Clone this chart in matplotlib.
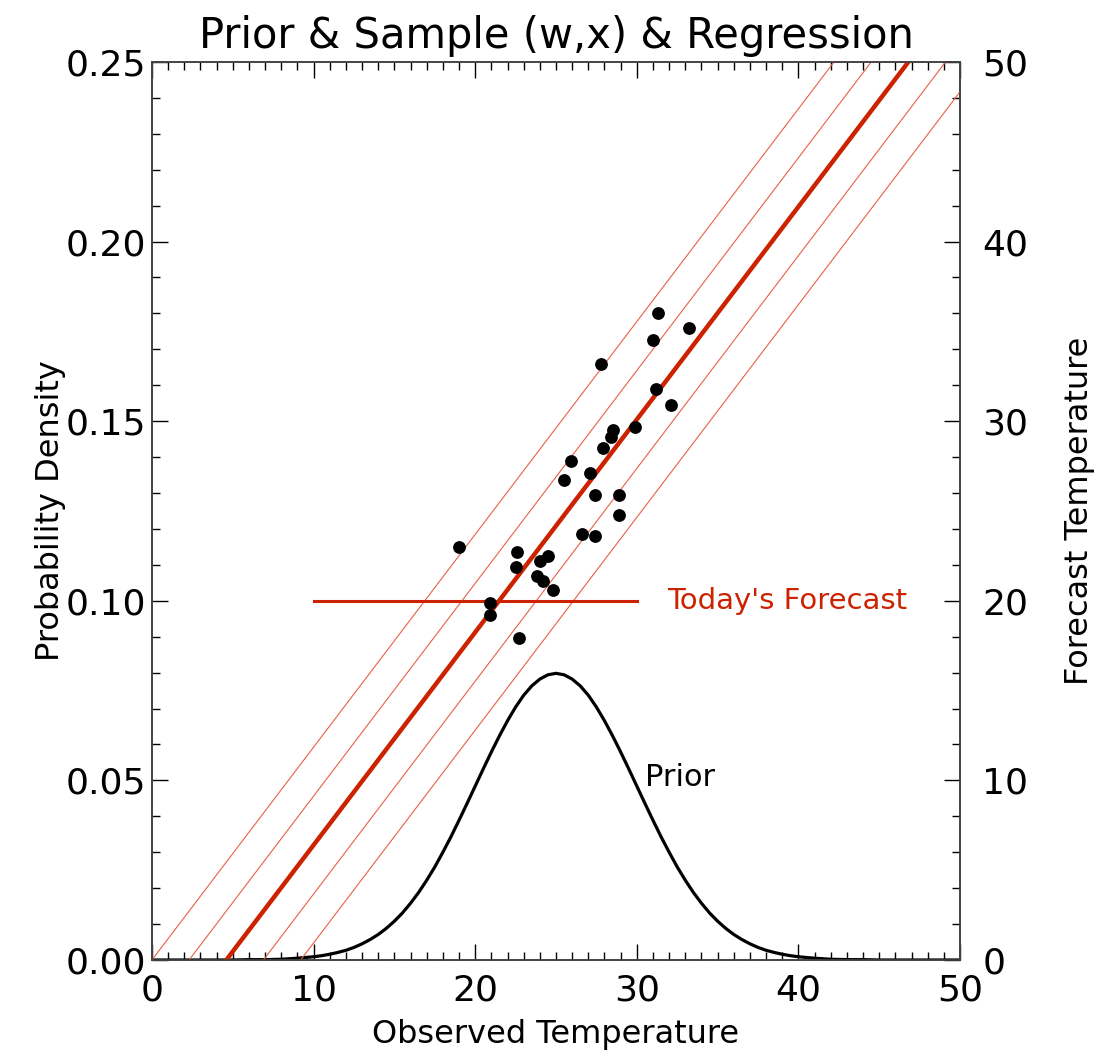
import matplotlib
matplotlib.use("Agg")
import matplotlib.pyplot as plt
from matplotlib.ticker import MultipleLocator

# prior density (observed temperature, density)
prior_x = [0, 1, 2, 3, 4, 5, 6, 7, 8, 9,
           10, 10.5, 11, 11.5, 12, 12.5, 13, 13.5, 14, 14.5,
           15, 15.5, 16, 16.5, 17, 17.5, 18, 18.5, 19, 19.5,
           20, 20.5, 21, 21.5, 22, 22.5, 23, 23.5, 24, 24.5,
           25, 25.5, 26, 26.5, 27, 27.5, 28, 28.5, 29, 29.5,
           30, 30.5, 31, 31.5, 32, 32.5, 33, 33.5, 34, 34.5,
           35, 35.5, 36, 36.5, 37, 37.5, 38, 38.5, 39, 39.5,
           40, 41, 42, 43, 44, 45, 46, 47, 48, 49, 50]
prior_y = [0, 0, 0, 0, 0, 0, 0.0001, 0.0001, 0.0002, 0.0005,
           0.0009, 0.0012, 0.0016, 0.0021, 0.0027, 0.0035, 0.0045, 0.0057, 0.0071, 0.0088,
           0.0108, 0.0131, 0.0158, 0.0188, 0.0222, 0.0259, 0.0300, 0.0343, 0.0389, 0.0436,
           0.0484, 0.0532, 0.0579, 0.0624, 0.0666, 0.0704, 0.0737, 0.0763, 0.0782, 0.0794,
           0.0798, 0.0794, 0.0782, 0.0763, 0.0737, 0.0704, 0.0666, 0.0624, 0.0579, 0.0532,
           0.0484, 0.0436, 0.0389, 0.0343, 0.0300, 0.0259, 0.0222, 0.0188, 0.0158, 0.0131,
           0.0108, 0.0088, 0.0071, 0.0057, 0.0045, 0.0035, 0.0027, 0.0021, 0.0016, 0.0012,
           0.0009, 0.0005, 0.0002, 0.0001, 0.0001, 0, 0, 0, 0, 0, 0]

# sample pairs (observed w, forecast x)
obs = [31.3, 33.2, 31.0, 27.8, 31.2, 32.1, 28.5, 29.9, 28.4, 27.9,
       25.9, 27.1, 25.5, 27.4, 28.9, 28.9, 26.6, 27.4, 19.0, 22.6,
       24.5, 24.0, 22.5, 23.8, 24.2, 24.8, 20.9, 20.9, 22.7]
fcst = [36.0, 35.2, 34.5, 33.2, 31.8, 30.9, 29.5, 29.7, 29.1, 28.5,
        27.8, 27.1, 26.7, 25.9, 25.9, 24.8, 23.7, 23.6, 23.0, 22.7,
        22.5, 22.2, 21.9, 21.4, 21.1, 20.6, 19.9, 19.2, 17.9]

# regression line and its bands: observed value where forecast = 0 and = 50
reg_x0 = [0.0, 2.3, 4.6, 6.9, 9.2]
reg_x50 = [42.2, 44.5, 46.8, 49.1, 51.4]
reg_main = 2

today_fcst = 20
today_range = [10, 30]

red = "#cc2200"
thin_red = "#e8604a"

plt.rcParams.update({"font.family": "DejaVu Sans", "font.size": 26})
fig = plt.figure(figsize=(11.01, 10.61), dpi=100)
ax = fig.add_axes([0.138, 0.0952, 0.734, 0.8464])
ax2 = ax.twinx()

ax.plot(prior_x, prior_y, color="black", lw=2.3, zorder=3)
ax.text(30.5, 0.0507, "Prior", fontsize=22, va="center", ha="left")

for i in range(len(reg_x0)):
    if i == reg_main:
        ax2.plot([reg_x0[i], reg_x50[i]], [0, 50], color=red, lw=3.2, zorder=2)
    else:
        ax2.plot([reg_x0[i], reg_x50[i]], [0, 50], color=thin_red, lw=0.8, zorder=2)

ax2.plot(today_range, [today_fcst, today_fcst], color=red, lw=2.2, zorder=2)
ax2.text(31.9, today_fcst, "Today's Forecast", color=red, fontsize=21, va="center", ha="left")

ax2.scatter(obs, fcst, s=85, color="black", zorder=4, linewidths=0)

ax.set_xlim(0, 50)
ax.set_ylim(0, 0.25)
ax2.set_ylim(0, 50)

ax.xaxis.set_major_locator(MultipleLocator(10))
ax.xaxis.set_minor_locator(MultipleLocator(1))
ax.yaxis.set_major_locator(MultipleLocator(0.05))
ax.yaxis.set_minor_locator(MultipleLocator(0.01))
ax2.yaxis.set_major_locator(MultipleLocator(10))
ax2.yaxis.set_minor_locator(MultipleLocator(2))
ax.yaxis.set_major_formatter(plt.FormatStrFormatter("%.2f"))

ax.tick_params(axis="x", which="both", direction="in", top=True, pad=10)
ax.tick_params(axis="y", which="both", direction="in", right=False, pad=4)
ax2.tick_params(axis="y", which="both", direction="in", pad=16)
for a in (ax, ax2):
    a.tick_params(which="major", length=11.5, width=1)
    a.tick_params(which="minor", length=5.8, width=1)
    for s in a.spines.values():
        s.set_color("#444444")
        s.set_linewidth(1.2)

ax.set_xlabel("Observed Temperature", fontsize=23, labelpad=8)
ax.set_ylabel("Probability Density", fontsize=23, labelpad=0)
ax2.set_ylabel("Forecast Temperature", fontsize=23, labelpad=26)
ax.set_title("Prior & Sample (w,x) & Regression", fontsize=30, pad=10)

fig.savefig("out.png", dpi=100)
